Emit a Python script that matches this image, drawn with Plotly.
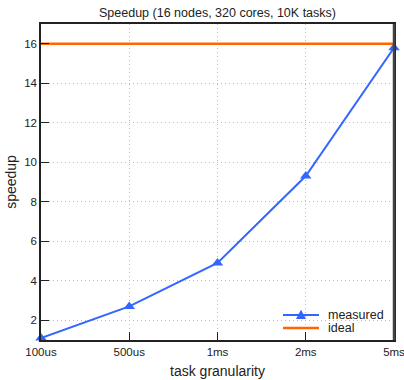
import plotly.graph_objects as go

granularity = ["100us", "500us", "1ms", "2ms", "5ms"]
measured = [1.1, 2.7, 4.9, 9.3, 15.8]
ideal = [16, 16, 16, 16, 16]
series_names = ["measured", "ideal"]

BLUE = "#3366ff"
ORANGE = "#ff6600"
xpos = list(range(len(granularity)))

fig = go.Figure()
fig.add_trace(go.Scatter(
    x=xpos, y=measured, mode="lines+markers", name=series_names[0],
    line=dict(color=BLUE, width=2),
    marker=dict(symbol="triangle-up", size=10, color=BLUE),
    cliponaxis=False, showlegend=False,
))
fig.add_trace(go.Scatter(
    x=xpos, y=ideal, mode="lines", name=series_names[1],
    line=dict(color=ORANGE, width=2.5),
    cliponaxis=False, showlegend=False,
))

# manual legend (compact, like the reference)
L0, L1 = 0.6856, 0.7875
yM, yI = 0.079, 0.038
fig.add_shape(type="line", xref="paper", yref="paper", x0=L0, x1=L1, y0=yM, y1=yM,
              line=dict(color=BLUE, width=2))
fig.add_shape(type="path", xref="paper", yref="paper",
              path="M 0.7365 0.0955 L 0.7223 0.0665 L 0.7507 0.0665 Z",
              fillcolor=BLUE, line=dict(color=BLUE, width=0))
fig.add_shape(type="line", xref="paper", yref="paper", x0=L0, x1=L1, y0=yI, y1=yI,
              line=dict(color=ORANGE, width=2.5))
for name, yy in zip(series_names, [yM, yI]):
    fig.add_annotation(text=name, xref="paper", yref="paper", x=0.808, y=yy,
                       xanchor="left", yanchor="middle", showarrow=False,
                       font=dict(size=12.5, color="#222"))

# thicker right border, like the reference
fig.add_shape(type="line", xref="paper", yref="paper", x0=1, x1=1, y0=0, y1=1,
              line=dict(color="#444", width=2.5))

fig.update_layout(
    width=404, height=380,
    margin=dict(l=41, r=10, t=24, b=40),
    paper_bgcolor="white", plot_bgcolor="white",
    font=dict(family="Liberation Sans, Arial, sans-serif", size=12, color="#222"),
    title=dict(text="Speedup (16 nodes, 320 cores, 10K tasks)", x=0.5, xanchor="center",
               xref="paper", y=1 - 13 / 380, yanchor="middle", font=dict(size=12.5)),
    showlegend=False,
)
fig.update_xaxes(
    range=[0, 4], tickmode="array", tickvals=xpos, ticktext=granularity,
    ticks="inside", ticklen=8, tickcolor="#222",
    showline=True, linecolor="#222", linewidth=1.5, mirror=True,
    showgrid=True, gridcolor="#bbbbbb", griddash="1px,3px", gridwidth=1,
    zeroline=False, automargin=False, ticklabeloverflow="allow",
    title=dict(text="task granularity", standoff=10),
    tickfont=dict(size=11.5),
)
fig.update_yaxes(
    range=[1, 17], tickmode="array", tickvals=[2, 4, 6, 8, 10, 12, 14, 16],
    ticks="inside", ticklen=8, tickcolor="#222",
    showline=True, linecolor="#222", linewidth=1.5, mirror=True,
    showgrid=True, gridcolor="#bbbbbb", griddash="1px,3px", gridwidth=1,
    zeroline=False, automargin=False, ticklabeloverflow="allow",
    title=dict(text="speedup", standoff=4),
    tickfont=dict(size=11.5),
)

fig.write_html("out.html")
